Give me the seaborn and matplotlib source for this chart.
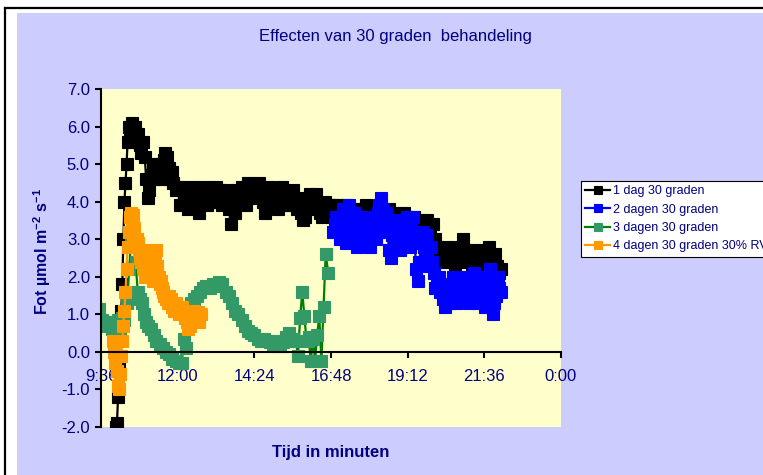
import numpy as np
import pandas as pd
import matplotlib
matplotlib.use('Agg')
import matplotlib.pyplot as plt
import seaborn as sns
from matplotlib.patches import Rectangle
from matplotlib.lines import Line2D
from matplotlib.ticker import FixedLocator, FixedFormatter

plt.rcParams['font.family'] = ['Liberation Sans', 'DejaVu Sans']
plt.rcParams['mathtext.fontset'] = 'custom'
plt.rcParams['mathtext.rm'] = 'Liberation Sans'
plt.rcParams['mathtext.bf'] = 'Liberation Sans:bold'

# time in minutes after midnight
t_dag1 = [604, 606, 608, 610, 612, 614, 616, 618, 620, 622, 624, 626, 628, 631, 634, 637, 640, 643,
          646, 649, 652, 655, 658, 661, 664, 667, 670, 673, 676, 679, 682, 685, 688, 691, 694, 697,
          700, 703, 706, 709, 712, 716, 720, 724, 728, 732, 736, 740, 744, 748, 752, 756, 760, 764,
          768, 772, 776, 780, 784, 788, 792, 796, 800, 804, 808, 812, 816, 820, 824, 828, 832, 836,
          840, 844, 848, 852, 856, 860, 864, 868, 872, 876, 880, 884, 888, 892, 896, 900, 904, 908,
          912, 916, 920, 924, 928, 932, 936, 940, 944, 948, 952, 956, 960, 964, 968, 972, 976, 980,
          984, 988, 992, 996, 1000, 1004, 1008, 1012, 1016, 1020, 1026, 1032, 1038, 1044, 1050, 1056,
          1062, 1068, 1074, 1080, 1086, 1092, 1098, 1104, 1110, 1116, 1122, 1128, 1134, 1140, 1146,
          1152, 1158, 1164, 1170, 1176, 1182, 1188, 1194, 1200, 1204, 1208, 1212, 1216, 1220, 1224,
          1228, 1232, 1236, 1240, 1244, 1248, 1252, 1256, 1260, 1264, 1268, 1272, 1276, 1280, 1284,
          1288, 1292, 1296, 1300, 1304, 1308, 1312, 1316, 1320, 1324, 1327]
v_dag1 = [-2.0, -1.9, -1.2, -0.3, 0.5, 1.1, 1.8, 3.0, 4.0, 4.5, 5.0, 5.6, 6.0, 5.7, 6.1, 5.8, 6.0, 5.6,
          5.8, 5.5, 5.3, 5.6, 5.2, 4.6, 4.1, 4.3, 4.7, 5.0, 4.6, 4.9, 4.8, 5.0, 4.6, 4.9, 5.1, 5.3,
          5.2, 4.9, 4.6, 4.8, 4.5, 4.3, 4.4, 3.9, 4.4, 4.1, 4.3, 3.8, 4.2, 4.4, 4.0, 4.2, 3.7, 4.3,
          4.1, 4.4, 3.9, 4.3, 4.0, 4.3, 4.4, 4.0, 4.3, 3.9, 4.2, 4.3, 3.8, 3.4, 4.1, 3.7, 4.3, 4.0,
          4.4, 4.2, 3.9, 4.5, 4.3, 4.1, 4.4, 4.2, 4.5, 4.1, 4.0, 3.7, 4.2, 4.4, 4.0, 4.3, 4.2, 3.8,
          4.1, 4.4, 4.2, 3.9, 4.1, 3.9, 4.3, 4.0, 3.8, 4.1, 3.7, 3.5, 3.6, 4.0, 4.2, 3.8, 4.1, 4.2,
          3.9, 3.7, 3.6, 4.0, 3.8, 3.9, 3.7, 3.9, 3.6, 3.9, 3.8, 3.6, 3.9, 3.7, 3.8, 3.6,
          3.8, 3.7, 3.9, 3.7, 3.6, 3.8, 3.5, 3.7, 3.6, 3.8, 3.5, 3.7, 3.6, 3.4, 3.7,
          3.5, 3.4, 3.6, 3.3, 3.5, 3.3, 3.5, 3.2, 3.4, 3.0, 2.8, 2.6, 2.7, 2.4, 2.6,
          2.8, 2.5, 2.7, 2.3, 2.6, 2.5, 2.8, 3.0, 2.7, 2.4, 2.6, 2.3, 2.5, 2.7, 2.4,
          2.6, 2.5, 2.3, 2.7, 2.8, 2.5, 2.4, 2.6, 2.3, 2.1, 2.2]

t_dag2 = [1012, 1015, 1018, 1021, 1024, 1027, 1030, 1033, 1036, 1039, 1042, 1045, 1048, 1051, 1054,
          1057, 1060, 1063, 1066, 1069, 1072, 1075, 1078, 1081, 1084, 1087, 1090, 1093, 1096, 1099,
          1102, 1105, 1108, 1111, 1114, 1117, 1120, 1123, 1126, 1129, 1132, 1135, 1138, 1141, 1144,
          1147, 1150, 1153, 1156, 1159, 1162, 1165, 1168, 1171, 1174, 1177, 1180, 1183, 1186, 1189,
          1192, 1195, 1198, 1201, 1204, 1207, 1210, 1213, 1216, 1219, 1222, 1225, 1228, 1231, 1234,
          1237, 1240, 1243, 1246, 1249, 1252, 1255, 1258, 1261, 1264, 1267, 1270, 1273, 1276, 1279,
          1282, 1285, 1288, 1291, 1294, 1297, 1300, 1303, 1306, 1309, 1312, 1315, 1318, 1321, 1324, 1327]
v_dag2 = [3.2, 3.4, 3.6, 3.3, 3.0, 3.5, 3.8, 3.3, 2.9, 3.6, 3.9, 3.4, 3.1, 3.7, 3.5,
          2.8, 3.2, 3.6, 3.3, 3.0, 3.5, 3.4, 2.9, 2.8, 3.3, 3.6, 3.2, 3.0, 3.7, 3.9,
          4.1, 3.8, 3.5, 3.7, 3.2, 2.7, 2.5, 3.1, 3.4, 3.0, 3.3, 3.5, 2.7, 3.2, 3.0,
          3.3, 3.6, 3.1, 2.8, 3.3, 3.6, 3.0, 2.2, 1.9, 2.4, 2.9, 3.2, 2.8, 3.1, 2.6,
          2.3, 2.8, 2.4, 2.1, 1.7, 1.9, 2.0, 1.6, 1.8, 1.4, 1.2, 1.5, 1.8, 1.3, 1.6,
          2.0, 1.5, 1.3, 1.7, 1.8, 1.5, 1.6, 1.9, 2.0, 1.7, 1.3, 1.5, 1.9, 2.1, 1.6,
          1.3, 1.8, 2.0, 1.7, 1.4, 1.2, 1.6, 1.9, 2.2, 1.8, 1.0, 1.3, 1.5, 2.0, 1.7, 1.6]

t_dag3 = [573, 578, 583, 588, 592, 596, 600, 604, 608, 612, 616, 620, 625, 629, 633, 637, 641, 645,
          649, 653, 657, 661, 665, 670, 675, 680, 686, 692, 698, 704, 710, 716, 722, 728, 731, 736,
          740, 745, 750, 756, 762, 768, 774, 780, 786, 792, 798, 804, 810, 816, 822, 828, 834, 840,
          846, 852, 858, 864, 870, 876, 882, 888, 894, 900, 906, 912, 918, 924, 930, 936, 942, 946,
          950, 954, 958, 962, 966, 970, 974, 978, 982, 986, 990, 994, 998, 1003]
v_dag3 = [1.15, 0.85, 0.8, 0.7, 0.8, 0.6, 0.75, 0.5, 0.85, 0.6, 0.9, 0.85, 1.3, 2.2, 3.1, 2.9, 2.4, 1.6,
          1.4, 1.3, 1.0, 0.8, 0.7, 0.6, 0.45, 0.3, 0.2, 0.1, 0.0, -0.05, -0.2, -0.25, -0.3, -0.3, 0.35, 0.1,
          0.9, 1.3, 1.4, 1.5, 1.6, 1.7, 1.75, 1.7, 1.8, 1.75, 1.85, 1.8, 1.6, 1.5, 1.3, 1.1, 1.0, 0.85,
          0.7, 0.55, 0.5, 0.45, 0.35, 0.3, 0.35, 0.3, 0.25, 0.2, 0.3, 0.15, 0.25, 0.4, 0.5, 0.35, 0.3, -0.1,
          0.9, 1.6, 0.95, 0.3, 0.4, -0.25, 0.35, -0.25, 0.45, 0.95, -0.25, 1.2, 2.6, 2.1]

t_dag4 = [598, 600, 602, 604, 606, 608, 610, 612, 614, 616, 618, 620, 622, 624, 626, 628, 630, 632,
          634, 636, 638, 640, 642, 644, 646, 648, 650, 652, 654, 656, 658, 660, 662, 664, 666, 668,
          670, 672, 674, 676, 678, 680, 682, 684, 686, 688, 690, 692, 695, 698, 701, 704, 707, 710,
          713, 716, 719, 722, 725, 728, 731, 734, 737, 740, 743, 746, 749, 752, 755, 758, 761, 764]
v_dag4 = [0.3, 0.0, -0.3, -0.1, -0.5, -0.9, -1.0, -0.6, -0.1, 0.3, 0.7, 1.1, 1.6, 2.2, 2.8, 3.2, 3.6, 3.7,
          3.5, 3.65, 3.3, 3.0, 2.9, 3.0, 2.9, 2.7, 2.5, 2.4, 2.3, 2.2, 2.0, 2.3, 2.5, 2.7, 2.6, 2.4,
          2.2, 2.0, 1.9, 2.2, 2.5, 2.7, 2.3, 2.0, 1.8, 1.9, 1.7, 1.6, 1.5, 1.4, 1.3, 1.5, 1.4, 1.2,
          1.1, 1.3, 1.2, 1.0, 1.1, 1.2, 1.0, 0.9, 0.8, 0.6, 0.7, 0.9, 1.1, 1.0, 0.9, 1.05, 0.8, 1.0]

labels = ['1 dag 30 graden', '2 dagen 30 graden', '3 dagen 30 graden', '4 dagen 30 graden 30% RV']
x_ticks = [576, 720, 864, 1008, 1152, 1296, 1440]
x_tick_labels = ['9:36', '12:00', '14:24', '16:48', '19:12', '21:36', '0:00']
y_ticks = [-2, -1, 0, 1, 2, 3, 4, 5, 6, 7]

navy = '#000080'
W, H = 763, 475

fig = plt.figure(figsize=(W / 100, H / 100), dpi=100)
fig.patch.set_facecolor('white')

# lavender chart area + frame line
fig.add_artist(Rectangle((17 / W, 0), 1, 1 - 13 / H, transform=fig.transFigure,
                         facecolor='#CCCCFF', edgecolor='none', zorder=-5))
fig.add_artist(Line2D([4.5 / W, 4.5 / W], [0, 1 - 8 / H], transform=fig.transFigure,
                      color='black', lw=1.6, zorder=-4))
fig.add_artist(Line2D([4.5 / W, 1], [1 - 8 / H, 1 - 8 / H], transform=fig.transFigure,
                      color='black', lw=1.6, zorder=-4))

ax = fig.add_axes([101 / W, 1 - 427 / H, 460 / W, 338 / H])
ax.set_facecolor('#FFFFCC')

series = [
    (t_dag1, v_dag1, 'black', 'black'),
    (t_dag2, v_dag2, '#0000FF', '#0000FF'),
    (t_dag3, v_dag3, '#008000', '#339966'),
    (t_dag4, v_dag4, '#FF9900', '#FF9900'),
]
for (t, v, lc, mc), lab in zip(series, labels):
    df = pd.DataFrame({'tijd': t, 'fot': v})
    sns.lineplot(data=df, x='tijd', y='fot', ax=ax, color=lc, linewidth=1.6,
                 marker='s', markersize=8, markerfacecolor=mc, markeredgecolor=mc,
                 markeredgewidth=0.8, estimator=None, sort=False, label=lab)

handles, labs = ax.get_legend_handles_labels()
if ax.get_legend() is not None:
    ax.get_legend().remove()

ax.set_xlim(576, 1440)
ax.set_ylim(-2, 7)
ax.set_xlabel('')
ax.set_ylabel('')
ax.xaxis.set_major_locator(FixedLocator(x_ticks))
ax.xaxis.set_major_formatter(FixedFormatter(x_tick_labels))
ax.set_yticks(y_ticks)
ax.set_yticklabels([f'{y:.1f}' for y in y_ticks])

ax.spines['top'].set_visible(False)
ax.spines['right'].set_visible(False)
ax.spines['bottom'].set_position(('data', 0))
ax.spines['left'].set_linewidth(1.5)
ax.spines['bottom'].set_linewidth(1.5)
ax.tick_params(axis='x', direction='out', length=4, width=1.5, pad=8,
               labelsize=12, labelcolor=navy)
ax.tick_params(axis='y', direction='out', length=4, width=1.5, pad=4,
               labelsize=12, labelcolor=navy)

fig.text(395 / W, 1 - 36 / H, 'Effecten van 30 graden  behandeling', ha='center', va='center',
         fontsize=12, color=navy)
fig.text(331 / W, 1 - 452 / H, 'Tijd in minuten', ha='center', va='center',
         fontsize=12, fontweight='bold', color=navy)
fig.text(42 / W, 1 - 252 / H, r'Fot µmol m$^{\mathbf{-2}}$ s$^{\mathbf{-1}}$', ha='center',
         va='center', rotation=90, fontsize=11.5, fontweight='bold', color=navy)

# legend runs off the right edge, as in the original chart
leg = fig.legend(handles, labs, loc='upper left', bbox_to_anchor=(581 / W, 1 - 181 / H),
                 fontsize=9.0, frameon=True, fancybox=False, framealpha=1, edgecolor='black',
                 handlelength=2.0, handletextpad=0.2, labelspacing=0.5, borderpad=0.35,
                 borderaxespad=0, labelcolor=navy)
leg.get_frame().set_linewidth(0.8)
for h in leg.legend_handles:
    h.set_markersize(6)

fig.savefig('out.png', dpi=100)
